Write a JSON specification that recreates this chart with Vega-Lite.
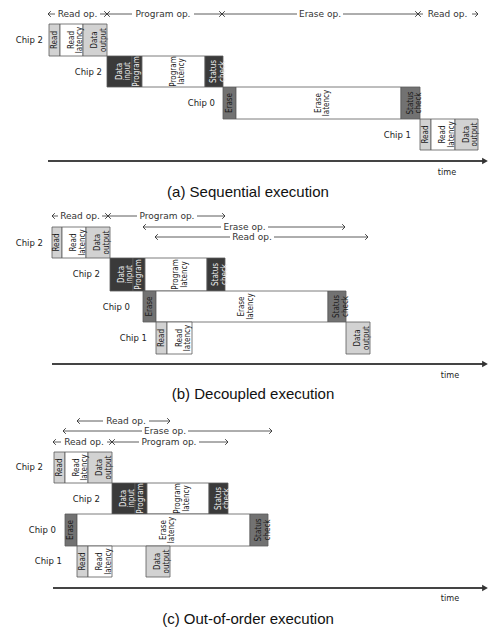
{
  "$schema": "https://vega.github.io/schema/vega-lite/v6.json",
  "width": 489,
  "height": 630,
  "autosize": {"type": "fit", "contains": "padding"},
  "padding": 0,
  "background": "white",
  "config": {"view": {"stroke": null}},
  "datasets": {
    "bars": [
      {"x1":49,"x2":60,"y1":24,"y2":56,"mx":54.5,"my":40,"t":"Read","k":"rd"},
      {"x1":60,"x2":83,"y1":24,"y2":56,"mx":71.5,"my":40,"t":"Read\nlatency","k":"wt"},
      {"x1":83,"x2":107,"y1":24,"y2":56,"mx":95,"my":40,"t":"Data\noutput","k":"rd"},
      {"x1":107,"x2":132,"y1":56,"y2":87,"mx":119.5,"my":71.5,"t":"Data\ninput","k":"dk"},
      {"x1":132,"x2":142,"y1":56,"y2":87,"mx":137,"my":71.5,"t":"Program","k":"dk"},
      {"x1":142,"x2":205,"y1":56,"y2":87,"mx":173.5,"my":71.5,"t":"Program\nlatency","k":"wt"},
      {"x1":205,"x2":223,"y1":56,"y2":87,"mx":214,"my":71.5,"t":"Status\ncheck","k":"dk"},
      {"x1":223,"x2":236,"y1":87,"y2":119,"mx":229.5,"my":103,"t":"Erase","k":"er"},
      {"x1":236,"x2":401,"y1":87,"y2":119,"mx":318.5,"my":103,"t":"Erase\nlatency","k":"wt"},
      {"x1":401,"x2":420,"y1":87,"y2":119,"mx":410.5,"my":103,"t":"Status\ncheck","k":"er"},
      {"x1":420,"x2":431,"y1":119,"y2":150,"mx":425.5,"my":134.5,"t":"Read","k":"rd"},
      {"x1":431,"x2":455,"y1":119,"y2":150,"mx":443,"my":134.5,"t":"Read\nlatency","k":"wt"},
      {"x1":455,"x2":478,"y1":119,"y2":150,"mx":466.5,"my":134.5,"t":"Data\noutput","k":"rd"},

      {"x1":52,"x2":62,"y1":227,"y2":258,"mx":57,"my":242.5,"t":"Read","k":"rd"},
      {"x1":62,"x2":86,"y1":227,"y2":258,"mx":74,"my":242.5,"t":"Read\nlatency","k":"wt"},
      {"x1":86,"x2":110,"y1":227,"y2":258,"mx":98,"my":242.5,"t":"Data\noutput","k":"rd"},
      {"x1":110,"x2":133,"y1":258,"y2":291,"mx":121.5,"my":274.5,"t":"Data\ninput","k":"dk"},
      {"x1":133,"x2":145,"y1":258,"y2":291,"mx":139,"my":274.5,"t":"Program","k":"dk"},
      {"x1":145,"x2":207,"y1":258,"y2":291,"mx":176,"my":274.5,"t":"Program\nlatency","k":"wt"},
      {"x1":207,"x2":225,"y1":258,"y2":291,"mx":216,"my":274.5,"t":"Status\ncheck","k":"dk"},
      {"x1":143,"x2":156,"y1":291,"y2":322,"mx":149.5,"my":306.5,"t":"Erase","k":"er"},
      {"x1":156,"x2":328,"y1":291,"y2":322,"mx":242,"my":306.5,"t":"Erase\nlatency","k":"wt"},
      {"x1":328,"x2":346,"y1":291,"y2":322,"mx":337,"my":306.5,"t":"Status\ncheck","k":"er"},
      {"x1":156,"x2":167,"y1":322,"y2":354,"mx":161.5,"my":338,"t":"Read","k":"rd"},
      {"x1":167,"x2":192,"y1":322,"y2":354,"mx":179.5,"my":338,"t":"Read\nlatency","k":"wt"},
      {"x1":346,"x2":370,"y1":322,"y2":354,"mx":358,"my":338,"t":"Data\noutput","k":"rd"},

      {"x1":54,"x2":65,"y1":452,"y2":483,"mx":59.5,"my":467.5,"t":"Read","k":"rd"},
      {"x1":65,"x2":88,"y1":452,"y2":483,"mx":76.5,"my":467.5,"t":"Read\nlatency","k":"wt"},
      {"x1":88,"x2":112,"y1":452,"y2":483,"mx":100,"my":467.5,"t":"Data\noutput","k":"rd"},
      {"x1":112,"x2":135,"y1":483,"y2":514,"mx":123.5,"my":498.5,"t":"Data\ninput","k":"dk"},
      {"x1":135,"x2":147,"y1":483,"y2":514,"mx":141,"my":498.5,"t":"Program","k":"dk"},
      {"x1":147,"x2":209,"y1":483,"y2":514,"mx":178,"my":498.5,"t":"Program\nlatency","k":"wt"},
      {"x1":209,"x2":228,"y1":483,"y2":514,"mx":218.5,"my":498.5,"t":"Status\ncheck","k":"dk"},
      {"x1":65,"x2":77,"y1":514,"y2":546,"mx":71,"my":530,"t":"Erase","k":"er"},
      {"x1":77,"x2":250,"y1":514,"y2":546,"mx":163.5,"my":530,"t":"Erase\nlatency","k":"wt"},
      {"x1":250,"x2":268,"y1":514,"y2":546,"mx":259,"my":530,"t":"Status\ncheck","k":"er"},
      {"x1":77,"x2":88,"y1":546,"y2":577,"mx":82.5,"my":561.5,"t":"Read","k":"rd"},
      {"x1":88,"x2":112,"y1":546,"y2":577,"mx":100,"my":561.5,"t":"Read\nlatency","k":"wt"},
      {"x1":146,"x2":170,"y1":546,"y2":577,"mx":158,"my":561.5,"t":"Data\noutput","k":"rd"}
    ],
    "chips": [
      {"x":43,"y":40,"t":"Chip 2"},
      {"x":102,"y":72,"t":"Chip 2"},
      {"x":215,"y":103,"t":"Chip 0"},
      {"x":411,"y":135,"t":"Chip 1"},
      {"x":43,"y":243,"t":"Chip 2"},
      {"x":100,"y":274,"t":"Chip 2"},
      {"x":130,"y":307,"t":"Chip 0"},
      {"x":147,"y":338,"t":"Chip 1"},
      {"x":43,"y":467,"t":"Chip 2"},
      {"x":100,"y":499,"t":"Chip 2"},
      {"x":56,"y":530,"t":"Chip 0"},
      {"x":62,"y":561,"t":"Chip 1"}
    ],
    "segs": [
      {"a":48,"b":55,"y":14},{"a":100,"b":107,"y":14},
      {"a":107,"b":132,"y":14},{"a":194,"b":222,"y":14},
      {"a":222,"b":297,"y":14},{"a":343,"b":418,"y":14},
      {"a":418,"b":423,"y":14},{"a":472,"b":478,"y":14},
      {"a":52,"b":58,"y":216},{"a":102,"b":108,"y":216},
      {"a":108,"b":137,"y":216},{"a":197,"b":225,"y":216},
      {"a":143,"b":221,"y":227},{"a":268,"b":345,"y":227},
      {"a":155,"b":230,"y":237},{"a":274,"b":368,"y":237},
      {"a":77,"b":103,"y":421},{"a":149,"b":170,"y":421},
      {"a":63,"b":142,"y":431},{"a":188,"b":272,"y":431},
      {"a":53,"b":61,"y":442},{"a":107,"b":112,"y":442},
      {"a":112,"b":139,"y":442},{"a":199,"b":228,"y":442}
    ],
    "heads": [
      {"x":48,"y":14,"d":"l"},{"x":107,"y":14,"d":"r"},
      {"x":107,"y":14,"d":"l"},{"x":222,"y":14,"d":"r"},
      {"x":222,"y":14,"d":"l"},{"x":418,"y":14,"d":"r"},
      {"x":418,"y":14,"d":"l"},{"x":478,"y":14,"d":"r"},
      {"x":52,"y":216,"d":"l"},{"x":108,"y":216,"d":"r"},
      {"x":108,"y":216,"d":"l"},{"x":225,"y":216,"d":"r"},
      {"x":143,"y":227,"d":"l"},{"x":345,"y":227,"d":"r"},
      {"x":155,"y":237,"d":"l"},{"x":368,"y":237,"d":"r"},
      {"x":77,"y":421,"d":"l"},{"x":170,"y":421,"d":"r"},
      {"x":63,"y":431,"d":"l"},{"x":272,"y":431,"d":"r"},
      {"x":53,"y":442,"d":"l"},{"x":112,"y":442,"d":"r"},
      {"x":112,"y":442,"d":"l"},{"x":228,"y":442,"d":"r"}
    ],
    "oplabels": [
      {"x":77.5,"y":14,"t":"Read op."},
      {"x":163,"y":14,"t":"Program op."},
      {"x":320,"y":14,"t":"Erase op."},
      {"x":447.5,"y":14,"t":"Read op."},
      {"x":80,"y":216,"t":"Read op."},
      {"x":167,"y":216,"t":"Program op."},
      {"x":244.5,"y":227,"t":"Erase op."},
      {"x":252,"y":237,"t":"Read op."},
      {"x":126,"y":421,"t":"Read op."},
      {"x":165,"y":431,"t":"Erase op."},
      {"x":84,"y":442,"t":"Read op."},
      {"x":169,"y":442,"t":"Program op."}
    ],
    "axes": [
      {"a":48,"b":484,"y":161},
      {"a":52,"b":484,"y":364},
      {"a":53,"b":484,"y":588}
    ],
    "axisheads": [
      {"x":485,"y":161},
      {"x":485,"y":364},
      {"x":485,"y":588}
    ],
    "times": [
      {"x":447,"y":172,"t":"time"},
      {"x":450,"y":375,"t":"time"},
      {"x":450,"y":598,"t":"time"}
    ],
    "captions": [
      {"x":248,"y":192,"t":"(a) Sequential execution"},
      {"x":253,"y":394,"t":"(b) Decoupled execution"},
      {"x":248,"y":619,"t":"(c) Out-of-order execution"}
    ]
  },
  "layer": [
    {
      "data": {"name": "bars"},
      "mark": {"type": "rect", "stroke": "#5a5a5a", "strokeWidth": 0.8},
      "encoding": {
        "x": {"field": "x1", "type": "quantitative", "scale": {"domain": [0, 489], "nice": false, "zero": false}, "axis": null},
        "x2": {"field": "x2"},
        "y": {"field": "y1", "type": "quantitative", "scale": {"domain": [0, 630], "nice": false, "zero": false, "reverse": true}, "axis": null},
        "y2": {"field": "y2"},
        "fill": {"field": "k", "type": "nominal", "scale": {"domain": ["rd", "wt", "dk", "er"], "range": ["#d2d2d2", "#ffffff", "#3a3a3a", "#727272"]}, "legend": null}
      }
    },
    {
      "data": {"name": "bars"},
      "mark": {"type": "text", "angle": 270, "align": "center", "baseline": "middle", "lineBreak": "\n", "lineHeight": 8.5, "fontSize": 8, "font": "DejaVu Sans Condensed, Liberation Sans Narrow, DejaVu Sans, sans-serif"},
      "encoding": {
        "x": {"field": "mx", "type": "quantitative"},
        "y": {"field": "my", "type": "quantitative"},
        "text": {"field": "t"},
        "color": {"condition": {"test": "datum.k === 'dk'", "value": "#eeeeee"}, "value": "#1a1a1a"}
      }
    },
    {
      "data": {"name": "chips"},
      "mark": {"type": "text", "align": "right", "baseline": "middle", "fontSize": 8.5, "font": "DejaVu Sans", "color": "#222"},
      "encoding": {
        "x": {"field": "x", "type": "quantitative"},
        "y": {"field": "y", "type": "quantitative"},
        "text": {"field": "t"}
      }
    },
    {
      "data": {"name": "segs"},
      "mark": {"type": "rule", "color": "#333", "strokeWidth": 0.8},
      "encoding": {
        "x": {"field": "a", "type": "quantitative"},
        "x2": {"field": "b"},
        "y": {"field": "y", "type": "quantitative"}
      }
    },
    {
      "data": {"name": "heads"},
      "mark": {"type": "point", "filled": false, "stroke": "#333", "strokeWidth": 0.9, "size": 32, "opacity": 1},
      "encoding": {
        "x": {"field": "x", "type": "quantitative"},
        "y": {"field": "y", "type": "quantitative"},
        "shape": {"field": "d", "type": "nominal", "scale": {"domain": ["l", "r"], "range": ["M1,-1L0,0L1,1", "M-1,-1L0,0L-1,1"]}, "legend": null}
      }
    },
    {
      "data": {"name": "oplabels"},
      "mark": {"type": "text", "align": "center", "baseline": "middle", "fontSize": 9, "font": "DejaVu Sans", "color": "#333"},
      "encoding": {
        "x": {"field": "x", "type": "quantitative"},
        "y": {"field": "y", "type": "quantitative"},
        "text": {"field": "t"}
      }
    },
    {
      "data": {"name": "axes"},
      "mark": {"type": "rule", "color": "#444", "strokeWidth": 2},
      "encoding": {
        "x": {"field": "a", "type": "quantitative"},
        "x2": {"field": "b"},
        "y": {"field": "y", "type": "quantitative"}
      }
    },
    {
      "data": {"name": "axisheads"},
      "mark": {"type": "point", "shape": "triangle-right", "filled": true, "color": "#333", "size": 45, "opacity": 1},
      "encoding": {
        "x": {"field": "x", "type": "quantitative"},
        "y": {"field": "y", "type": "quantitative"}
      }
    },
    {
      "data": {"name": "times"},
      "mark": {"type": "text", "align": "center", "baseline": "middle", "fontSize": 9, "font": "DejaVu Sans Condensed, DejaVu Sans, sans-serif", "color": "#222"},
      "encoding": {
        "x": {"field": "x", "type": "quantitative"},
        "y": {"field": "y", "type": "quantitative"},
        "text": {"field": "t"}
      }
    },
    {
      "data": {"name": "captions"},
      "mark": {"type": "text", "align": "center", "baseline": "middle", "fontSize": 15, "font": "Liberation Sans, Arial, sans-serif", "color": "#111"},
      "encoding": {
        "x": {"field": "x", "type": "quantitative"},
        "y": {"field": "y", "type": "quantitative"},
        "text": {"field": "t"}
      }
    }
  ]
}
